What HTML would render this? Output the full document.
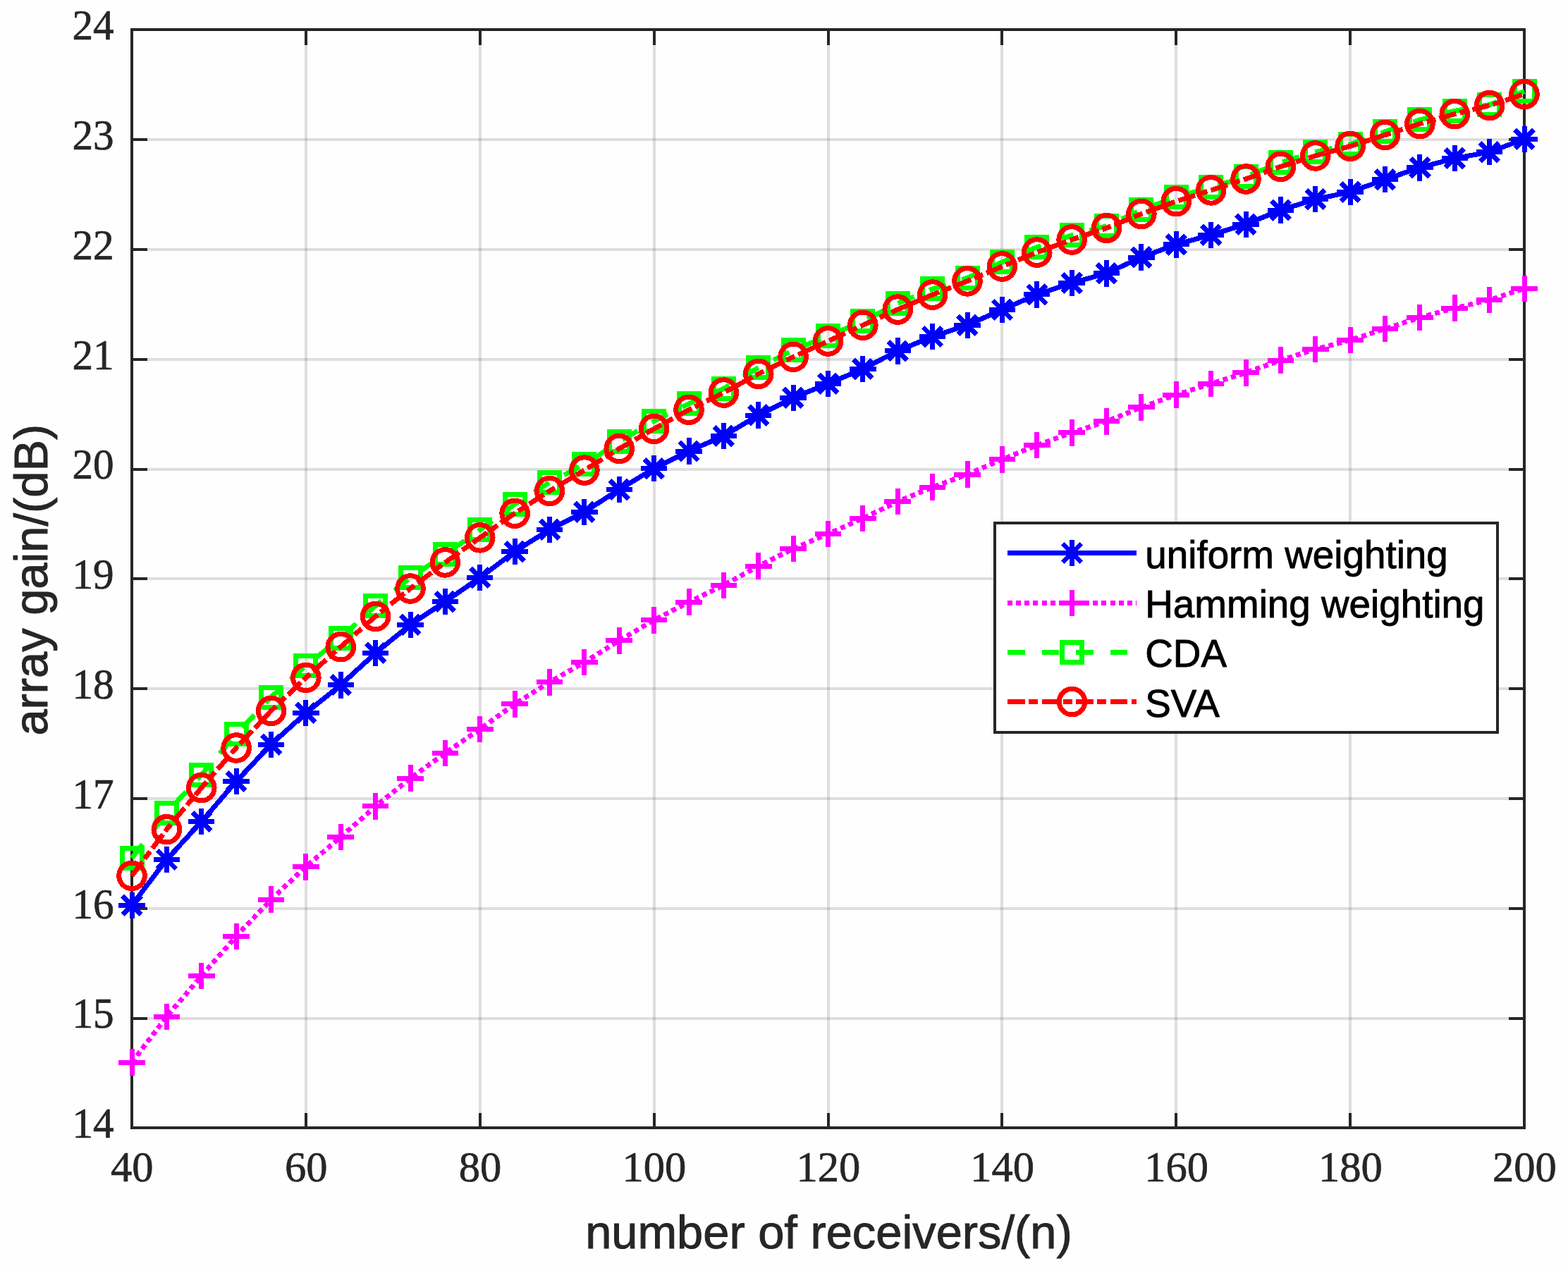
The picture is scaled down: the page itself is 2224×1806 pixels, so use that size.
<!DOCTYPE html>
<html lang="en"><head><meta charset="utf-8"><title>array gain vs number of receivers</title>
<style>html,body{margin:0;padding:0;background:#fff;}body{width:2224px;height:1806px;overflow:hidden;}svg{display:block;}.tk{font-family:"Liberation Serif",serif;font-size:62px;fill:#262626;stroke:#262626;stroke-width:0.7px;}.lb{font-family:"Liberation Sans",sans-serif;font-size:66.8px;fill:#262626;stroke:#262626;stroke-width:1px;stroke-linejoin:round;}.lg{font-family:"Liberation Sans",sans-serif;font-size:54.8px;fill:#000;stroke:#000;stroke-width:0.9px;stroke-linejoin:round;}</style></head><body>
<svg width="2224" height="1806" viewBox="0 0 2224 1806">
<rect width="2224" height="1806" fill="#fefefe"/>
<g stroke="#262626" stroke-opacity="0.15" stroke-width="4" shape-rendering="crispEdges">
<line x1="433.88" y1="42" x2="433.88" y2="1600"/>
<line x1="680.75" y1="42" x2="680.75" y2="1600"/>
<line x1="927.62" y1="42" x2="927.62" y2="1600"/>
<line x1="1174.5" y1="42" x2="1174.5" y2="1600"/>
<line x1="1421.38" y1="42" x2="1421.38" y2="1600"/>
<line x1="1668.25" y1="42" x2="1668.25" y2="1600"/>
<line x1="1915.12" y1="42" x2="1915.12" y2="1600"/>
<line x1="187" y1="1444.6" x2="2162" y2="1444.6"/>
<line x1="187" y1="1288.8" x2="2162" y2="1288.8"/>
<line x1="187" y1="1133" x2="2162" y2="1133"/>
<line x1="187" y1="977.2" x2="2162" y2="977.2"/>
<line x1="187" y1="821.4" x2="2162" y2="821.4"/>
<line x1="187" y1="665.6" x2="2162" y2="665.6"/>
<line x1="187" y1="509.8" x2="2162" y2="509.8"/>
<line x1="187" y1="354" x2="2162" y2="354"/>
<line x1="187" y1="198.2" x2="2162" y2="198.2"/>
</g>
<g stroke="#262626" stroke-width="4" fill="none" shape-rendering="crispEdges">
<rect x="187" y="42" width="1975" height="1558"/>
<path d="M433.88 1600V1579 M433.88 42V64"/>
<path d="M680.75 1600V1579 M680.75 42V64"/>
<path d="M927.62 1600V1579 M927.62 42V64"/>
<path d="M1174.5 1600V1579 M1174.5 42V64"/>
<path d="M1421.38 1600V1579 M1421.38 42V64"/>
<path d="M1668.25 1600V1579 M1668.25 42V64"/>
<path d="M1915.12 1600V1579 M1915.12 42V64"/>
<path d="M187 1444.6H209 M2162 1444.6H2140"/>
<path d="M187 1288.8H209 M2162 1288.8H2140"/>
<path d="M187 1133H209 M2162 1133H2140"/>
<path d="M187 977.2H209 M2162 977.2H2140"/>
<path d="M187 821.4H209 M2162 821.4H2140"/>
<path d="M187 665.6H209 M2162 665.6H2140"/>
<path d="M187 509.8H209 M2162 509.8H2140"/>
<path d="M187 354H209 M2162 354H2140"/>
<path d="M187 198.2H209 M2162 198.2H2140"/>
</g>
<g class="tk" text-anchor="end">
<text transform="translate(161.6 1614.2) scale(0.955 1)">14</text>
<text transform="translate(161.6 1458.4) scale(0.955 1)">15</text>
<text transform="translate(161.6 1302.6) scale(0.955 1)">16</text>
<text transform="translate(161.6 1146.8) scale(0.955 1)">17</text>
<text transform="translate(161.6 991) scale(0.955 1)">18</text>
<text transform="translate(161.6 835.2) scale(0.955 1)">19</text>
<text transform="translate(161.6 679.4) scale(0.955 1)">20</text>
<text transform="translate(161.6 523.6) scale(0.955 1)">21</text>
<text transform="translate(161.6 367.8) scale(0.955 1)">22</text>
<text transform="translate(161.6 212) scale(0.955 1)">23</text>
<text transform="translate(161.6 56.2) scale(0.955 1)">24</text>
</g>
<g class="tk" text-anchor="middle">
<text transform="translate(187.3 1675.7) scale(0.977 1)">40</text>
<text transform="translate(434.18 1675.7) scale(0.977 1)">60</text>
<text transform="translate(681.05 1675.7) scale(0.977 1)">80</text>
<text transform="translate(927.92 1675.7) scale(0.977 1)">100</text>
<text transform="translate(1174.8 1675.7) scale(0.977 1)">120</text>
<text transform="translate(1421.67 1675.7) scale(0.977 1)">140</text>
<text transform="translate(1668.55 1675.7) scale(0.977 1)">160</text>
<text transform="translate(1915.42 1675.7) scale(0.977 1)">180</text>
<text transform="translate(2162.3 1675.7) scale(0.977 1)">200</text>
</g>
<text class="lb" text-anchor="middle" x="1175.4" y="1770.6">number of receivers/(n)</text>
<text class="lb" text-anchor="middle" transform="translate(67.2 822.7) rotate(-90)">array gain/(dB)</text>
<g shape-rendering="crispEdges">
<polyline points="187,1284.2 236.38,1219.4 285.75,1165.7 335.12,1108.4 384.5,1056.3 433.88,1011.4 483.25,971.8 532.62,926.4 582,886.3 631.38,853.5 680.75,819.5 730.12,782.5 779.5,751.3 828.88,726.3 878.25,694.5 927.62,664.7 977,640 1026.38,618.5 1075.75,589 1125.12,564.3 1174.5,544.3 1223.88,523.5 1273.25,497.8 1322.62,477.6 1372,461.3 1421.38,439.4 1470.75,417.8 1520.12,401.5 1569.5,387.8 1618.88,365 1668.25,346.9 1717.62,333.2 1767,318.2 1816.38,298.1 1865.75,282.7 1915.12,272.4 1964.5,254.7 2013.88,237.8 2063.25,224.7 2112.62,215.7 2162,197.2" fill="none" stroke="#0000ff" stroke-width="7" stroke-linejoin="round"/>
<path d="M168.3 1284.2h37.4 M187 1265.5v37.4 M173.78 1270.98l26.45 26.45 M173.78 1297.42l26.45 -26.45" stroke="#0000ff" stroke-width="7" fill="none"/>
<path d="M217.68 1219.4h37.4 M236.38 1200.7v37.4 M223.15 1206.18l26.45 26.45 M223.15 1232.62l26.45 -26.45" stroke="#0000ff" stroke-width="7" fill="none"/>
<path d="M267.05 1165.7h37.4 M285.75 1147v37.4 M272.53 1152.48l26.45 26.45 M272.53 1178.92l26.45 -26.45" stroke="#0000ff" stroke-width="7" fill="none"/>
<path d="M316.43 1108.4h37.4 M335.12 1089.7v37.4 M321.9 1095.18l26.45 26.45 M321.9 1121.62l26.45 -26.45" stroke="#0000ff" stroke-width="7" fill="none"/>
<path d="M365.8 1056.3h37.4 M384.5 1037.6v37.4 M371.28 1043.08l26.45 26.45 M371.28 1069.52l26.45 -26.45" stroke="#0000ff" stroke-width="7" fill="none"/>
<path d="M415.18 1011.4h37.4 M433.88 992.7v37.4 M420.65 998.18l26.45 26.45 M420.65 1024.62l26.45 -26.45" stroke="#0000ff" stroke-width="7" fill="none"/>
<path d="M464.55 971.8h37.4 M483.25 953.1v37.4 M470.03 958.58l26.45 26.45 M470.03 985.02l26.45 -26.45" stroke="#0000ff" stroke-width="7" fill="none"/>
<path d="M513.92 926.4h37.4 M532.62 907.7v37.4 M519.4 913.18l26.45 26.45 M519.4 939.62l26.45 -26.45" stroke="#0000ff" stroke-width="7" fill="none"/>
<path d="M563.3 886.3h37.4 M582 867.6v37.4 M568.78 873.08l26.45 26.45 M568.78 899.52l26.45 -26.45" stroke="#0000ff" stroke-width="7" fill="none"/>
<path d="M612.67 853.5h37.4 M631.38 834.8v37.4 M618.15 840.28l26.45 26.45 M618.15 866.72l26.45 -26.45" stroke="#0000ff" stroke-width="7" fill="none"/>
<path d="M662.05 819.5h37.4 M680.75 800.8v37.4 M667.53 806.28l26.45 26.45 M667.53 832.72l26.45 -26.45" stroke="#0000ff" stroke-width="7" fill="none"/>
<path d="M711.42 782.5h37.4 M730.12 763.8v37.4 M716.9 769.28l26.45 26.45 M716.9 795.72l26.45 -26.45" stroke="#0000ff" stroke-width="7" fill="none"/>
<path d="M760.8 751.3h37.4 M779.5 732.6v37.4 M766.28 738.08l26.45 26.45 M766.28 764.52l26.45 -26.45" stroke="#0000ff" stroke-width="7" fill="none"/>
<path d="M810.17 726.3h37.4 M828.88 707.6v37.4 M815.65 713.08l26.45 26.45 M815.65 739.52l26.45 -26.45" stroke="#0000ff" stroke-width="7" fill="none"/>
<path d="M859.55 694.5h37.4 M878.25 675.8v37.4 M865.03 681.28l26.45 26.45 M865.03 707.72l26.45 -26.45" stroke="#0000ff" stroke-width="7" fill="none"/>
<path d="M908.92 664.7h37.4 M927.62 646v37.4 M914.4 651.48l26.45 26.45 M914.4 677.92l26.45 -26.45" stroke="#0000ff" stroke-width="7" fill="none"/>
<path d="M958.3 640h37.4 M977 621.3v37.4 M963.78 626.78l26.45 26.45 M963.78 653.22l26.45 -26.45" stroke="#0000ff" stroke-width="7" fill="none"/>
<path d="M1007.67 618.5h37.4 M1026.38 599.8v37.4 M1013.15 605.28l26.45 26.45 M1013.15 631.72l26.45 -26.45" stroke="#0000ff" stroke-width="7" fill="none"/>
<path d="M1057.05 589h37.4 M1075.75 570.3v37.4 M1062.53 575.78l26.45 26.45 M1062.53 602.22l26.45 -26.45" stroke="#0000ff" stroke-width="7" fill="none"/>
<path d="M1106.42 564.3h37.4 M1125.12 545.6v37.4 M1111.9 551.08l26.45 26.45 M1111.9 577.52l26.45 -26.45" stroke="#0000ff" stroke-width="7" fill="none"/>
<path d="M1155.8 544.3h37.4 M1174.5 525.6v37.4 M1161.28 531.08l26.45 26.45 M1161.28 557.52l26.45 -26.45" stroke="#0000ff" stroke-width="7" fill="none"/>
<path d="M1205.17 523.5h37.4 M1223.88 504.8v37.4 M1210.65 510.28l26.45 26.45 M1210.65 536.72l26.45 -26.45" stroke="#0000ff" stroke-width="7" fill="none"/>
<path d="M1254.55 497.8h37.4 M1273.25 479.1v37.4 M1260.03 484.58l26.45 26.45 M1260.03 511.02l26.45 -26.45" stroke="#0000ff" stroke-width="7" fill="none"/>
<path d="M1303.92 477.6h37.4 M1322.62 458.9v37.4 M1309.4 464.38l26.45 26.45 M1309.4 490.82l26.45 -26.45" stroke="#0000ff" stroke-width="7" fill="none"/>
<path d="M1353.3 461.3h37.4 M1372 442.6v37.4 M1358.78 448.08l26.45 26.45 M1358.78 474.52l26.45 -26.45" stroke="#0000ff" stroke-width="7" fill="none"/>
<path d="M1402.67 439.4h37.4 M1421.38 420.7v37.4 M1408.15 426.18l26.45 26.45 M1408.15 452.62l26.45 -26.45" stroke="#0000ff" stroke-width="7" fill="none"/>
<path d="M1452.05 417.8h37.4 M1470.75 399.1v37.4 M1457.53 404.58l26.45 26.45 M1457.53 431.02l26.45 -26.45" stroke="#0000ff" stroke-width="7" fill="none"/>
<path d="M1501.42 401.5h37.4 M1520.12 382.8v37.4 M1506.9 388.28l26.45 26.45 M1506.9 414.72l26.45 -26.45" stroke="#0000ff" stroke-width="7" fill="none"/>
<path d="M1550.8 387.8h37.4 M1569.5 369.1v37.4 M1556.28 374.58l26.45 26.45 M1556.28 401.02l26.45 -26.45" stroke="#0000ff" stroke-width="7" fill="none"/>
<path d="M1600.17 365h37.4 M1618.88 346.3v37.4 M1605.65 351.78l26.45 26.45 M1605.65 378.22l26.45 -26.45" stroke="#0000ff" stroke-width="7" fill="none"/>
<path d="M1649.55 346.9h37.4 M1668.25 328.2v37.4 M1655.03 333.68l26.45 26.45 M1655.03 360.12l26.45 -26.45" stroke="#0000ff" stroke-width="7" fill="none"/>
<path d="M1698.92 333.2h37.4 M1717.62 314.5v37.4 M1704.4 319.98l26.45 26.45 M1704.4 346.42l26.45 -26.45" stroke="#0000ff" stroke-width="7" fill="none"/>
<path d="M1748.3 318.2h37.4 M1767 299.5v37.4 M1753.78 304.98l26.45 26.45 M1753.78 331.42l26.45 -26.45" stroke="#0000ff" stroke-width="7" fill="none"/>
<path d="M1797.67 298.1h37.4 M1816.38 279.4v37.4 M1803.15 284.88l26.45 26.45 M1803.15 311.32l26.45 -26.45" stroke="#0000ff" stroke-width="7" fill="none"/>
<path d="M1847.05 282.7h37.4 M1865.75 264v37.4 M1852.53 269.48l26.45 26.45 M1852.53 295.92l26.45 -26.45" stroke="#0000ff" stroke-width="7" fill="none"/>
<path d="M1896.42 272.4h37.4 M1915.12 253.7v37.4 M1901.9 259.18l26.45 26.45 M1901.9 285.62l26.45 -26.45" stroke="#0000ff" stroke-width="7" fill="none"/>
<path d="M1945.8 254.7h37.4 M1964.5 236v37.4 M1951.28 241.48l26.45 26.45 M1951.28 267.92l26.45 -26.45" stroke="#0000ff" stroke-width="7" fill="none"/>
<path d="M1995.17 237.8h37.4 M2013.88 219.1v37.4 M2000.65 224.58l26.45 26.45 M2000.65 251.02l26.45 -26.45" stroke="#0000ff" stroke-width="7" fill="none"/>
<path d="M2044.55 224.7h37.4 M2063.25 206v37.4 M2050.03 211.48l26.45 26.45 M2050.03 237.92l26.45 -26.45" stroke="#0000ff" stroke-width="7" fill="none"/>
<path d="M2093.93 215.7h37.4 M2112.62 197v37.4 M2099.4 202.48l26.45 26.45 M2099.4 228.92l26.45 -26.45" stroke="#0000ff" stroke-width="7" fill="none"/>
<path d="M2143.3 197.2h37.4 M2162 178.5v37.4 M2148.78 183.98l26.45 26.45 M2148.78 210.42l26.45 -26.45" stroke="#0000ff" stroke-width="7" fill="none"/>
<polyline points="187,1507.2 236.38,1442.4 285.75,1384.6 335.12,1328.3 384.5,1276.2 433.88,1229.7 483.25,1187.4 532.62,1143.9 582,1104.2 631.38,1068.4 680.75,1034.5 730.12,998.8 779.5,967.7 828.88,939.6 878.25,908.7 927.62,879.7 977,854.2 1026.38,830.3 1075.75,803.2 1125.12,778.6 1174.5,757.4 1223.88,735.4 1273.25,711.6 1322.62,691.2 1372,673 1421.38,651.8 1470.75,631.6 1520.12,613.8 1569.5,597.9 1618.88,577.9 1668.25,560.1 1717.62,544.4 1767,528.8 1816.38,511 1865.75,495.5 1915.12,482.6 1964.5,466.5 2013.88,450.5 2063.25,437.1 2112.62,425.5 2162,409.3" fill="none" stroke="#ff00ff" stroke-width="7" stroke-linejoin="round" stroke-dasharray="7 5.13"/>
<path d="M168.2 1507.2h37.6 M187 1488.4v37.6" stroke="#ff00ff" stroke-width="7" fill="none"/>
<path d="M217.57 1442.4h37.6 M236.38 1423.6v37.6" stroke="#ff00ff" stroke-width="7" fill="none"/>
<path d="M266.95 1384.6h37.6 M285.75 1365.8v37.6" stroke="#ff00ff" stroke-width="7" fill="none"/>
<path d="M316.32 1328.3h37.6 M335.12 1309.5v37.6" stroke="#ff00ff" stroke-width="7" fill="none"/>
<path d="M365.7 1276.2h37.6 M384.5 1257.4v37.6" stroke="#ff00ff" stroke-width="7" fill="none"/>
<path d="M415.07 1229.7h37.6 M433.88 1210.9v37.6" stroke="#ff00ff" stroke-width="7" fill="none"/>
<path d="M464.45 1187.4h37.6 M483.25 1168.6v37.6" stroke="#ff00ff" stroke-width="7" fill="none"/>
<path d="M513.83 1143.9h37.6 M532.62 1125.1v37.6" stroke="#ff00ff" stroke-width="7" fill="none"/>
<path d="M563.2 1104.2h37.6 M582 1085.4v37.6" stroke="#ff00ff" stroke-width="7" fill="none"/>
<path d="M612.58 1068.4h37.6 M631.38 1049.6v37.6" stroke="#ff00ff" stroke-width="7" fill="none"/>
<path d="M661.95 1034.5h37.6 M680.75 1015.7v37.6" stroke="#ff00ff" stroke-width="7" fill="none"/>
<path d="M711.33 998.8h37.6 M730.12 980v37.6" stroke="#ff00ff" stroke-width="7" fill="none"/>
<path d="M760.7 967.7h37.6 M779.5 948.9v37.6" stroke="#ff00ff" stroke-width="7" fill="none"/>
<path d="M810.08 939.6h37.6 M828.88 920.8v37.6" stroke="#ff00ff" stroke-width="7" fill="none"/>
<path d="M859.45 908.7h37.6 M878.25 889.9v37.6" stroke="#ff00ff" stroke-width="7" fill="none"/>
<path d="M908.83 879.7h37.6 M927.62 860.9v37.6" stroke="#ff00ff" stroke-width="7" fill="none"/>
<path d="M958.2 854.2h37.6 M977 835.4v37.6" stroke="#ff00ff" stroke-width="7" fill="none"/>
<path d="M1007.58 830.3h37.6 M1026.38 811.5v37.6" stroke="#ff00ff" stroke-width="7" fill="none"/>
<path d="M1056.95 803.2h37.6 M1075.75 784.4v37.6" stroke="#ff00ff" stroke-width="7" fill="none"/>
<path d="M1106.33 778.6h37.6 M1125.12 759.8v37.6" stroke="#ff00ff" stroke-width="7" fill="none"/>
<path d="M1155.7 757.4h37.6 M1174.5 738.6v37.6" stroke="#ff00ff" stroke-width="7" fill="none"/>
<path d="M1205.08 735.4h37.6 M1223.88 716.6v37.6" stroke="#ff00ff" stroke-width="7" fill="none"/>
<path d="M1254.45 711.6h37.6 M1273.25 692.8v37.6" stroke="#ff00ff" stroke-width="7" fill="none"/>
<path d="M1303.83 691.2h37.6 M1322.62 672.4v37.6" stroke="#ff00ff" stroke-width="7" fill="none"/>
<path d="M1353.2 673h37.6 M1372 654.2v37.6" stroke="#ff00ff" stroke-width="7" fill="none"/>
<path d="M1402.58 651.8h37.6 M1421.38 633v37.6" stroke="#ff00ff" stroke-width="7" fill="none"/>
<path d="M1451.95 631.6h37.6 M1470.75 612.8v37.6" stroke="#ff00ff" stroke-width="7" fill="none"/>
<path d="M1501.33 613.8h37.6 M1520.12 595v37.6" stroke="#ff00ff" stroke-width="7" fill="none"/>
<path d="M1550.7 597.9h37.6 M1569.5 579.1v37.6" stroke="#ff00ff" stroke-width="7" fill="none"/>
<path d="M1600.08 577.9h37.6 M1618.88 559.1v37.6" stroke="#ff00ff" stroke-width="7" fill="none"/>
<path d="M1649.45 560.1h37.6 M1668.25 541.3v37.6" stroke="#ff00ff" stroke-width="7" fill="none"/>
<path d="M1698.83 544.4h37.6 M1717.62 525.6v37.6" stroke="#ff00ff" stroke-width="7" fill="none"/>
<path d="M1748.2 528.8h37.6 M1767 510v37.6" stroke="#ff00ff" stroke-width="7" fill="none"/>
<path d="M1797.58 511h37.6 M1816.38 492.2v37.6" stroke="#ff00ff" stroke-width="7" fill="none"/>
<path d="M1846.95 495.5h37.6 M1865.75 476.7v37.6" stroke="#ff00ff" stroke-width="7" fill="none"/>
<path d="M1896.33 482.6h37.6 M1915.12 463.8v37.6" stroke="#ff00ff" stroke-width="7" fill="none"/>
<path d="M1945.7 466.5h37.6 M1964.5 447.7v37.6" stroke="#ff00ff" stroke-width="7" fill="none"/>
<path d="M1995.08 450.5h37.6 M2013.88 431.7v37.6" stroke="#ff00ff" stroke-width="7" fill="none"/>
<path d="M2044.45 437.1h37.6 M2063.25 418.3v37.6" stroke="#ff00ff" stroke-width="7" fill="none"/>
<path d="M2093.82 425.5h37.6 M2112.62 406.7v37.6" stroke="#ff00ff" stroke-width="7" fill="none"/>
<path d="M2143.2 409.3h37.6 M2162 390.5v37.6" stroke="#ff00ff" stroke-width="7" fill="none"/>
<polyline points="187,1217.44 236.38,1153.12 285.75,1099.06 335.12,1041.52 384.5,989 433.88,944.4 483.25,905.22 532.62,859.52 582,819.48 631.38,786.56 680.75,751.84 730.12,715.26 779.5,684.3 828.88,658.88 878.25,626.72 927.62,597.52 977,572.7 1026.38,551.44 1075.75,521.46 1125.12,496.76 1174.5,476.64 1223.88,455.84 1273.25,430.44 1322.62,409.88 1372,394.36 1421.38,371.86 1470.75,350.62 1520.12,333.96 1569.5,320.56 1618.88,297.7 1668.25,279.6 1717.62,265.78 1767,250.72 1816.38,230.56 1865.75,215.52 1915.12,204.56 1964.5,186.8 2013.88,169.96 2063.25,157.4 2112.62,148.52 2162,129.66" fill="none" stroke="#00ff00" stroke-width="7" stroke-linejoin="round" stroke-dasharray="24.9 23.62"/>
<rect x="173" y="1203.44" width="28" height="28" stroke="#00ff00" stroke-width="7" fill="none"/>
<rect x="222.38" y="1139.12" width="28" height="28" stroke="#00ff00" stroke-width="7" fill="none"/>
<rect x="271.75" y="1085.06" width="28" height="28" stroke="#00ff00" stroke-width="7" fill="none"/>
<rect x="321.12" y="1027.52" width="28" height="28" stroke="#00ff00" stroke-width="7" fill="none"/>
<rect x="370.5" y="975" width="28" height="28" stroke="#00ff00" stroke-width="7" fill="none"/>
<rect x="419.88" y="930.4" width="28" height="28" stroke="#00ff00" stroke-width="7" fill="none"/>
<rect x="469.25" y="891.22" width="28" height="28" stroke="#00ff00" stroke-width="7" fill="none"/>
<rect x="518.62" y="845.52" width="28" height="28" stroke="#00ff00" stroke-width="7" fill="none"/>
<rect x="568" y="805.48" width="28" height="28" stroke="#00ff00" stroke-width="7" fill="none"/>
<rect x="617.38" y="772.56" width="28" height="28" stroke="#00ff00" stroke-width="7" fill="none"/>
<rect x="666.75" y="737.84" width="28" height="28" stroke="#00ff00" stroke-width="7" fill="none"/>
<rect x="716.12" y="701.26" width="28" height="28" stroke="#00ff00" stroke-width="7" fill="none"/>
<rect x="765.5" y="670.3" width="28" height="28" stroke="#00ff00" stroke-width="7" fill="none"/>
<rect x="814.88" y="644.88" width="28" height="28" stroke="#00ff00" stroke-width="7" fill="none"/>
<rect x="864.25" y="612.72" width="28" height="28" stroke="#00ff00" stroke-width="7" fill="none"/>
<rect x="913.62" y="583.52" width="28" height="28" stroke="#00ff00" stroke-width="7" fill="none"/>
<rect x="963" y="558.7" width="28" height="28" stroke="#00ff00" stroke-width="7" fill="none"/>
<rect x="1012.38" y="537.44" width="28" height="28" stroke="#00ff00" stroke-width="7" fill="none"/>
<rect x="1061.75" y="507.46" width="28" height="28" stroke="#00ff00" stroke-width="7" fill="none"/>
<rect x="1111.12" y="482.76" width="28" height="28" stroke="#00ff00" stroke-width="7" fill="none"/>
<rect x="1160.5" y="462.64" width="28" height="28" stroke="#00ff00" stroke-width="7" fill="none"/>
<rect x="1209.88" y="441.84" width="28" height="28" stroke="#00ff00" stroke-width="7" fill="none"/>
<rect x="1259.25" y="416.44" width="28" height="28" stroke="#00ff00" stroke-width="7" fill="none"/>
<rect x="1308.62" y="395.88" width="28" height="28" stroke="#00ff00" stroke-width="7" fill="none"/>
<rect x="1358" y="380.36" width="28" height="28" stroke="#00ff00" stroke-width="7" fill="none"/>
<rect x="1407.38" y="357.86" width="28" height="28" stroke="#00ff00" stroke-width="7" fill="none"/>
<rect x="1456.75" y="336.62" width="28" height="28" stroke="#00ff00" stroke-width="7" fill="none"/>
<rect x="1506.12" y="319.96" width="28" height="28" stroke="#00ff00" stroke-width="7" fill="none"/>
<rect x="1555.5" y="306.56" width="28" height="28" stroke="#00ff00" stroke-width="7" fill="none"/>
<rect x="1604.88" y="283.7" width="28" height="28" stroke="#00ff00" stroke-width="7" fill="none"/>
<rect x="1654.25" y="265.6" width="28" height="28" stroke="#00ff00" stroke-width="7" fill="none"/>
<rect x="1703.62" y="251.78" width="28" height="28" stroke="#00ff00" stroke-width="7" fill="none"/>
<rect x="1753" y="236.72" width="28" height="28" stroke="#00ff00" stroke-width="7" fill="none"/>
<rect x="1802.38" y="216.56" width="28" height="28" stroke="#00ff00" stroke-width="7" fill="none"/>
<rect x="1851.75" y="201.52" width="28" height="28" stroke="#00ff00" stroke-width="7" fill="none"/>
<rect x="1901.12" y="190.56" width="28" height="28" stroke="#00ff00" stroke-width="7" fill="none"/>
<rect x="1950.5" y="172.8" width="28" height="28" stroke="#00ff00" stroke-width="7" fill="none"/>
<rect x="1999.88" y="155.96" width="28" height="28" stroke="#00ff00" stroke-width="7" fill="none"/>
<rect x="2049.25" y="143.4" width="28" height="28" stroke="#00ff00" stroke-width="7" fill="none"/>
<rect x="2098.62" y="134.52" width="28" height="28" stroke="#00ff00" stroke-width="7" fill="none"/>
<rect x="2148" y="115.66" width="28" height="28" stroke="#00ff00" stroke-width="7" fill="none"/>
<polyline points="187,1242.4 236.38,1176.7 285.75,1117.6 335.12,1061 384.5,1008.4 433.88,961.4 483.25,917.7 532.62,874.5 582,835 631.38,797.9 680.75,762.8 730.12,728.3 779.5,696.5 828.88,667.1 878.25,636.5 927.62,608.4 977,581.4 1026.38,557.1 1075.75,530.4 1125.12,506.3 1174.5,484 1223.88,461.3 1273.25,439.1 1322.62,418.1 1372,398.9 1421.38,378 1470.75,358.1 1520.12,340 1569.5,323.5 1618.88,303.5 1668.25,285.7 1717.62,269.9 1767,254 1816.38,236.4 1865.75,221 1915.12,207.4 1964.5,191.5 2013.88,175.6 2063.25,161.7 2112.62,149.6 2162,133.7" fill="none" stroke="#ff0000" stroke-width="7" stroke-linejoin="round" stroke-dasharray="24.9 5.2 13 5.42"/>
<circle cx="187" cy="1242.4" r="18.3" stroke="#ff0000" stroke-width="7" fill="none"/>
<circle cx="236.38" cy="1176.7" r="18.3" stroke="#ff0000" stroke-width="7" fill="none"/>
<circle cx="285.75" cy="1117.6" r="18.3" stroke="#ff0000" stroke-width="7" fill="none"/>
<circle cx="335.12" cy="1061" r="18.3" stroke="#ff0000" stroke-width="7" fill="none"/>
<circle cx="384.5" cy="1008.4" r="18.3" stroke="#ff0000" stroke-width="7" fill="none"/>
<circle cx="433.88" cy="961.4" r="18.3" stroke="#ff0000" stroke-width="7" fill="none"/>
<circle cx="483.25" cy="917.7" r="18.3" stroke="#ff0000" stroke-width="7" fill="none"/>
<circle cx="532.62" cy="874.5" r="18.3" stroke="#ff0000" stroke-width="7" fill="none"/>
<circle cx="582" cy="835" r="18.3" stroke="#ff0000" stroke-width="7" fill="none"/>
<circle cx="631.38" cy="797.9" r="18.3" stroke="#ff0000" stroke-width="7" fill="none"/>
<circle cx="680.75" cy="762.8" r="18.3" stroke="#ff0000" stroke-width="7" fill="none"/>
<circle cx="730.12" cy="728.3" r="18.3" stroke="#ff0000" stroke-width="7" fill="none"/>
<circle cx="779.5" cy="696.5" r="18.3" stroke="#ff0000" stroke-width="7" fill="none"/>
<circle cx="828.88" cy="667.1" r="18.3" stroke="#ff0000" stroke-width="7" fill="none"/>
<circle cx="878.25" cy="636.5" r="18.3" stroke="#ff0000" stroke-width="7" fill="none"/>
<circle cx="927.62" cy="608.4" r="18.3" stroke="#ff0000" stroke-width="7" fill="none"/>
<circle cx="977" cy="581.4" r="18.3" stroke="#ff0000" stroke-width="7" fill="none"/>
<circle cx="1026.38" cy="557.1" r="18.3" stroke="#ff0000" stroke-width="7" fill="none"/>
<circle cx="1075.75" cy="530.4" r="18.3" stroke="#ff0000" stroke-width="7" fill="none"/>
<circle cx="1125.12" cy="506.3" r="18.3" stroke="#ff0000" stroke-width="7" fill="none"/>
<circle cx="1174.5" cy="484" r="18.3" stroke="#ff0000" stroke-width="7" fill="none"/>
<circle cx="1223.88" cy="461.3" r="18.3" stroke="#ff0000" stroke-width="7" fill="none"/>
<circle cx="1273.25" cy="439.1" r="18.3" stroke="#ff0000" stroke-width="7" fill="none"/>
<circle cx="1322.62" cy="418.1" r="18.3" stroke="#ff0000" stroke-width="7" fill="none"/>
<circle cx="1372" cy="398.9" r="18.3" stroke="#ff0000" stroke-width="7" fill="none"/>
<circle cx="1421.38" cy="378" r="18.3" stroke="#ff0000" stroke-width="7" fill="none"/>
<circle cx="1470.75" cy="358.1" r="18.3" stroke="#ff0000" stroke-width="7" fill="none"/>
<circle cx="1520.12" cy="340" r="18.3" stroke="#ff0000" stroke-width="7" fill="none"/>
<circle cx="1569.5" cy="323.5" r="18.3" stroke="#ff0000" stroke-width="7" fill="none"/>
<circle cx="1618.88" cy="303.5" r="18.3" stroke="#ff0000" stroke-width="7" fill="none"/>
<circle cx="1668.25" cy="285.7" r="18.3" stroke="#ff0000" stroke-width="7" fill="none"/>
<circle cx="1717.62" cy="269.9" r="18.3" stroke="#ff0000" stroke-width="7" fill="none"/>
<circle cx="1767" cy="254" r="18.3" stroke="#ff0000" stroke-width="7" fill="none"/>
<circle cx="1816.38" cy="236.4" r="18.3" stroke="#ff0000" stroke-width="7" fill="none"/>
<circle cx="1865.75" cy="221" r="18.3" stroke="#ff0000" stroke-width="7" fill="none"/>
<circle cx="1915.12" cy="207.4" r="18.3" stroke="#ff0000" stroke-width="7" fill="none"/>
<circle cx="1964.5" cy="191.5" r="18.3" stroke="#ff0000" stroke-width="7" fill="none"/>
<circle cx="2013.88" cy="175.6" r="18.3" stroke="#ff0000" stroke-width="7" fill="none"/>
<circle cx="2063.25" cy="161.7" r="18.3" stroke="#ff0000" stroke-width="7" fill="none"/>
<circle cx="2112.62" cy="149.6" r="18.3" stroke="#ff0000" stroke-width="7" fill="none"/>
<circle cx="2162" cy="133.7" r="18.3" stroke="#ff0000" stroke-width="7" fill="none"/>
</g>
<rect x="1411" y="742" width="713" height="297" fill="#fff" stroke="#262626" stroke-width="4" shape-rendering="crispEdges"/>
<g shape-rendering="crispEdges" stroke-width="7" fill="none">
<path d="M1429 784.5H1612" stroke="#0000ff"/>
<path d="M1501.8 784.5h37.4 M1520.5 765.8v37.4 M1507.28 771.28l26.45 26.45 M1507.28 797.72l26.45 -26.45" stroke="#0000ff" stroke-width="7" fill="none"/>
<path d="M1429 855.3H1612" stroke="#ff00ff" stroke-dasharray="7 5.13"/>
<path d="M1501.7 855.3h37.6 M1520.5 836.5v37.6" stroke="#ff00ff" stroke-width="7" fill="none"/>
<path d="M1429 925.4H1612" stroke="#00ff00" stroke-dasharray="24.9 23.62"/>
<rect x="1506.5" y="911.4" width="28" height="28" stroke="#00ff00" stroke-width="7" fill="none"/>
<path d="M1429 995.6H1612" stroke="#ff0000" stroke-dasharray="24.9 5.2 13 5.42"/>
<circle cx="1520.5" cy="995.6" r="18.3" stroke="#ff0000" stroke-width="7" fill="none"/>
</g>
<g class="lg">
<text x="1624.3" y="805.5">uniform weighting</text>
<text x="1624.3" y="876.3">Hamming weighting</text>
<text x="1624.3" y="946.4">CDA</text>
<text x="1624.3" y="1016.6">SVA</text>
</g>
</svg></body></html>
